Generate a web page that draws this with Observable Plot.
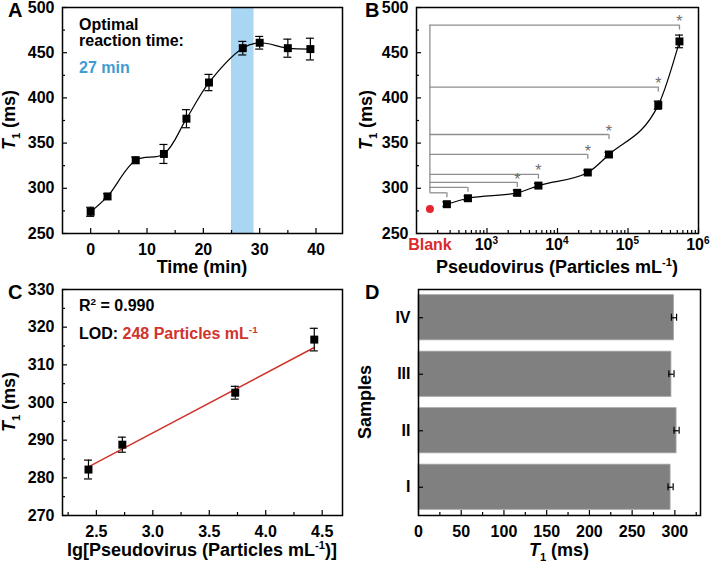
<!DOCTYPE html>
<html><head><meta charset="utf-8">
<script src="https://cdn.jsdelivr.net/npm/d3@7"></script>
<script src="https://cdn.jsdelivr.net/npm/@observablehq/plot@0.6"></script>
<style>
html,body{margin:0;padding:0;background:#fff;}
#fig{position:relative;width:714px;height:564px;overflow:hidden;background:#fff;}
#fig svg{position:absolute;}
</style></head><body><div id="fig"></div>
<script>
// ---------- Panel A: T1 vs reaction time ----------
const timeMin   = [0, 3, 8, 13, 17, 21, 27, 30, 35, 39];
const t1Time    = [274, 291, 331, 338, 377, 417, 455, 461, 455, 454];
const t1TimeErr = [5, 3, 3.5, 10.5, 10, 9, 7.5, 7, 10, 12];
const optimalWindow = [25, 29];
const aXTicks = [0, 10, 20, 30, 40];
const aYTicks = [250, 300, 350, 400, 450, 500];

// ---------- Panel B: T1 vs pseudovirus concentration ----------
const blankConc = 155;
const blankT1 = 277;
const virusConc = [270, 537, 2690, 5370, 26900, 53700, 269000, 537000];
const t1Conc    = [282.4, 289, 295, 303, 317.5, 337.4, 392, 462.5];
const t1ConcErr = [2.5, 2.5, 3, 2.5, 2.5, 2.5, 4.5, 7];
const bracketLevel = [295, 301, 306.5, 315.5, 337.5, 359.5, 412, 480.5];
const bracketMark  = ["", "", "*", "*", "*", "*", "*", "*"];
const bXDecades   = [1e3, 1e4, 1e5, 1e6];
const bXExponents = ["3", "4", "5", "6"];
const bYTicks = [250, 300, 350, 400, 450, 500];

// ---------- Panel C: linear calibration ----------
const lgConc   = [2.43, 2.73, 3.73, 4.43];
const t1Lin    = [282.2, 288.8, 302.6, 316.7];
const t1LinErr = [2.5, 2, 1.7, 3];
const fitX = [2.43, 4.43];
const fitY = [282.9, 314.6];
const cXTicks = [2.5, 3.0, 3.5, 4.0, 4.5];
const cYTicks = [270, 280, 290, 300, 310, 320, 330];

// ---------- Panel D: samples ----------
const samples      = ["I", "II", "III", "IV"];
const t1Samples    = [295, 302, 296, 299];
const t1SamplesErr = [3, 3, 3, 3];
const dXTicks = [0, 50, 100, 150, 200, 250, 300];

// ---------- helpers ----------
const FONT = "'Liberation Sans', Arial, Helvetica, sans-serif";
const W = 357, H = 282;
const TICKFS = 16;
const fig = document.getElementById("fig");
const style = {fontFamily: FONT, fontSize: "16px", fontWeight: "bold", color: "black", background: "transparent", overflow: "visible"};
const GRAY = "#8e8e8e";

function xTicks(vals, len, innerH) {
  return Plot.tickX(vals, {x: d => d, insetTop: innerH - len, stroke: "black", strokeWidth: 1.2});
}
function yTicks(vals, len, innerW) {
  return Plot.tickY(vals, {y: d => d, insetRight: innerW - len, stroke: "black", strokeWidth: 1.2});
}
function mids(vals) {
  const out = [];
  for (let i = 0; i < vals.length - 1; i++) out.push((vals[i] + vals[i + 1]) / 2);
  return out;
}
function errMarks(data, cap = 4) {
  return [
    Plot.ruleX(data, {x: "x", y1: d => d.y - d.e, y2: d => d.y + d.e, stroke: "black", strokeWidth: 1.2}),
    Plot.ruleY(data, {x1: "x", x2: "x", y: d => d.y + d.e, insetLeft: -cap, insetRight: -cap, stroke: "black", strokeWidth: 1.2}),
    Plot.ruleY(data, {x1: "x", x2: "x", y: d => d.y - d.e, insetLeft: -cap, insetRight: -cap, stroke: "black", strokeWidth: 1.2})
  ];
}
function rich(svg, x, y, parts, opt = {}) {
  const size = opt.size || 18;
  const t = d3.select(svg).append("text")
    .attr("x", x).attr("y", y)
    .attr("font-family", FONT)
    .attr("font-size", size).attr("font-weight", "bold")
    .attr("text-anchor", opt.anchor || "start")
    .attr("fill", opt.fill || "black");
  if (opt.rotate) t.attr("transform", `rotate(${opt.rotate},${x},${y})`);
  let shift = 0;
  for (const p of parts) {
    const s = t.append("tspan").text(p.t);
    const target = p.sub ? size * 0.25 : p.sup ? -size * 0.38 : 0;
    if (target !== shift) { s.attr("dy", target - shift); shift = target; }
    if (p.sub || p.sup) s.attr("font-size", size * 0.62);
    if (p.italic) s.attr("font-style", "italic");
    if (p.fill) s.attr("fill", p.fill);
  }
  return t;
}
function place(svg, left, top) {
  svg.style.left = left + "px";
  svg.style.top = top + "px";
  fig.appendChild(svg);
}
const T1 = [{t: "T", italic: true}, {t: "1", sub: true}, {t: " (ms)"}];

// ---------- Panel A ----------
{
  const m = {t: 7, r: 15, b: 49, l: 62};
  const iw = W - m.l - m.r, ih = H - m.t - m.b;
  const data = timeMin.map((x, i) => ({x, y: t1Time[i], e: t1TimeErr[i]}));
  const svg = Plot.plot({
    width: W, height: H, marginTop: m.t, marginRight: m.r, marginBottom: m.b, marginLeft: m.l,
    style,
    x: {domain: [-5, 44.7]},
    y: {domain: [250, 500]},
    marks: [
      Plot.rect([optimalWindow], {x1: d => d[0], x2: d => d[1], y1: () => 250, y2: () => 500, fill: "#a9d6f3"}),
      Plot.line(data, {x: "x", y: "y", curve: "catmull-rom", stroke: "black", strokeWidth: 1.2}),
      ...errMarks(data),
      Plot.dot(data, {x: "x", y: "y", symbol: "square", r: 4.5, fill: "black", stroke: "none"}),
      xTicks(aXTicks, 5, ih), xTicks(mids(aXTicks), 3, ih),
      yTicks(aYTicks, 5, iw), yTicks(mids(aYTicks), 3, iw),
      Plot.axisX(aXTicks, {tickSize: 0, tickPadding: 10, label: null, fontSize: TICKFS}),
      Plot.axisY(aYTicks, {tickSize: 0, tickPadding: 8, label: null, fontSize: TICKFS}),
      Plot.frame({stroke: "black", strokeWidth: 1.5})
    ]
  });
  rich(svg, 8, 17, [{t: "A"}], {size: 20});
  rich(svg, 79, 30, [{t: "Optimal"}], {size: 16});
  rich(svg, 79, 46, [{t: "reaction time:"}], {size: 16});
  rich(svg, 79, 73, [{t: "27 min"}], {size: 16, fill: "#3f9bd2"});
  rich(svg, (m.l + W - m.r) / 2, 273, [{t: "Time (min)"}], {anchor: "middle"});
  rich(svg, 15, m.t + ih / 2, T1, {anchor: "middle", rotate: -90});
  place(svg, 0, 0);
}

// ---------- Panel B ----------
{
  const m = {t: 7, r: 16, b: 49, l: 59};
  const iw = W - m.l - m.r, ih = H - m.t - m.b;
  const data = virusConc.map((x, i) => ({x, y: t1Conc[i], e: t1ConcErr[i]}));
  const br = virusConc.map((x, i) => ({x, h: bracketLevel[i], s: bracketMark[i]}));
  const minor = [];
  for (const d of [1e2, 1e3, 1e4, 1e5]) for (let k = 2; k <= 9; k++) minor.push(d * k);
  const svg = Plot.plot({
    width: W, height: H, marginTop: m.t, marginRight: m.r, marginBottom: m.b, marginLeft: m.l,
    style,
    x: {type: "log", domain: [1e2, 1e6], axis: null},
    y: {domain: [250, 500]},
    marks: [
      Plot.ruleY(br, {x1: () => blankConc, x2: "x", y: "h", stroke: GRAY, strokeWidth: 1.3}),
      Plot.ruleX(br, {x: "x", y1: "h", y2: d => d.h - 5.5, stroke: GRAY, strokeWidth: 1.3}),
      Plot.ruleX([blankConc], {x: d => d, y1: () => d3.min(bracketLevel), y2: () => d3.max(bracketLevel), stroke: GRAY, strokeWidth: 1.3}),
      Plot.text(br, {x: "x", y: "h", text: "s", dy: -3, fill: "#6e6e6e", fontSize: 16, fontWeight: "normal"}),
      Plot.line(data, {x: "x", y: "y", curve: "monotone-x", stroke: "black", strokeWidth: 1.2}),
      ...errMarks(data),
      Plot.dot(data, {x: "x", y: "y", symbol: "square", r: 4.5, fill: "black", stroke: "none"}),
      Plot.dot([blankT1], {x: () => blankConc, y: d => d, r: 4, fill: "#e3262b", stroke: "none"}),
      xTicks(bXDecades, 5, ih), xTicks(minor, 3, ih),
      yTicks(bYTicks, 5, iw), yTicks(mids(bYTicks), 3, iw),
      Plot.text(bXDecades, {x: d => d, frameAnchor: "bottom", text: () => "10", textAnchor: "end", dx: 5.5, dy: 16, fontSize: TICKFS}),
      Plot.text(bXDecades, {x: d => d, frameAnchor: "bottom", text: (d, i) => bXExponents[i], textAnchor: "start", dx: 5.5, dy: 10, fontSize: 10}),
      Plot.text([blankConc], {x: d => d, frameAnchor: "bottom", text: () => "Blank", fill: "#d92b2b", dy: 16, fontSize: TICKFS}),
      Plot.axisY(bYTicks, {tickSize: 0, tickPadding: 8, label: null, fontSize: TICKFS}),
      Plot.frame({stroke: "black", strokeWidth: 1.5})
    ]
  });
  rich(svg, 8, 17, [{t: "B"}], {size: 20});
  rich(svg, (m.l + W - m.r) / 2, 273, [{t: "Pseudovirus (Particles mL"}, {t: "-1", sup: true}, {t: ")"}], {anchor: "middle"});
  rich(svg, 15, m.t + ih / 2, T1, {anchor: "middle", rotate: -90});
  place(svg, 357, 0);
}

// ---------- Panel C ----------
{
  const m = {t: 7, r: 15, b: 49, l: 62};
  const iw = W - m.l - m.r, ih = H - m.t - m.b;
  const data = lgConc.map((x, i) => ({x, y: t1Lin[i], e: t1LinErr[i]}));
  const fit = fitX.map((x, i) => ({x, y: fitY[i]}));
  const svg = Plot.plot({
    width: W, height: H, marginTop: m.t, marginRight: m.r, marginBottom: m.b, marginLeft: m.l,
    style,
    x: {domain: [2.2, 4.68]},
    y: {domain: [270, 330]},
    marks: [
      Plot.line(fit, {x: "x", y: "y", stroke: "#d0342c", strokeWidth: 1.5}),
      ...errMarks(data),
      Plot.dot(data, {x: "x", y: "y", symbol: "square", r: 4.5, fill: "black", stroke: "none"}),
      xTicks(cXTicks, 5, ih), xTicks([2.25, ...mids(cXTicks)], 3, ih),
      yTicks(cYTicks, 5, iw), yTicks(mids(cYTicks), 3, iw),
      Plot.axisX(cXTicks, {tickSize: 0, tickPadding: 10, label: null, tickFormat: d3.format(".1f"), fontSize: TICKFS}),
      Plot.axisY(cYTicks, {tickSize: 0, tickPadding: 8, label: null, fontSize: TICKFS}),
      Plot.frame({stroke: "black", strokeWidth: 1.5})
    ]
  });
  rich(svg, 8, 17, [{t: "C"}], {size: 20});
  rich(svg, 79, 29, [{t: "R"}, {t: "2", sup: true}, {t: " = 0.990"}], {size: 16});
  rich(svg, 79, 57, [{t: "LOD: "}, {t: "248 Particles mL", fill: "#d0342c"}, {t: "-1", sup: true, fill: "#d0342c"}], {size: 16});
  rich(svg, (m.l + W - m.r) / 2, 274, [{t: "lg[Pseudovirus (Particles mL"}, {t: "-1", sup: true}, {t: ")]"}], {anchor: "middle"});
  rich(svg, 15, m.t + ih / 2, T1, {anchor: "middle", rotate: -90});
  place(svg, 0, 282);
}

// ---------- Panel D ----------
{
  const m = {t: 7, r: 14, b: 49, l: 61};
  const iw = W - m.l - m.r, ih = H - m.t - m.b;
  const pIn = 0.2, pOut = 0.1;
  const step = ih / (samples.length - pIn + 2 * pOut);
  const bw = step * (1 - pIn);
  const capInset = (bw - 7) / 2;
  const data = samples.map((s, i) => ({s, v: t1Samples[i], e: t1SamplesErr[i]}));
  const svg = Plot.plot({
    width: W, height: H, marginTop: m.t, marginRight: m.r, marginBottom: m.b, marginLeft: m.l,
    style,
    x: {domain: [0, 330]},
    y: {domain: [...samples].reverse(), paddingInner: pIn, paddingOuter: pOut, round: false},
    marks: [
      Plot.barX(data, {y: "s", x: "v", fill: "#808080", stroke: "#a8a8a8", strokeWidth: 0.8}),
      Plot.ruleY(data, {y: "s", x1: d => d.v - d.e, x2: d => d.v + d.e, stroke: "black", strokeWidth: 1.2}),
      Plot.tickX(data, {y: "s", x: d => d.v - d.e, insetTop: capInset, insetBottom: capInset, stroke: "black", strokeWidth: 1.2}),
      Plot.tickX(data, {y: "s", x: d => d.v + d.e, insetTop: capInset, insetBottom: capInset, stroke: "black", strokeWidth: 1.2}),
      xTicks(dXTicks, 5, ih), xTicks(mids(dXTicks).concat([325]), 3, ih),
      Plot.ruleY(samples, {y: d => d, x1: () => 0, x2: () => 0, insetRight: -5, stroke: "black", strokeWidth: 1.2}),
      Plot.axisX(dXTicks, {tickSize: 0, tickPadding: 10, label: null, fontSize: TICKFS}),
      Plot.axisY({tickSize: 0, tickPadding: 8, label: null, fontSize: TICKFS}),
      Plot.frame({stroke: "black", strokeWidth: 1.5})
    ]
  });
  rich(svg, 8, 17, [{t: "D"}], {size: 20});
  rich(svg, (m.l + W - m.r) / 2, 274, T1, {anchor: "middle"});
  rich(svg, 14, m.t + ih / 2, [{t: "Samples"}], {anchor: "middle", rotate: -90});
  place(svg, 357, 282);
}
</script></body></html>
